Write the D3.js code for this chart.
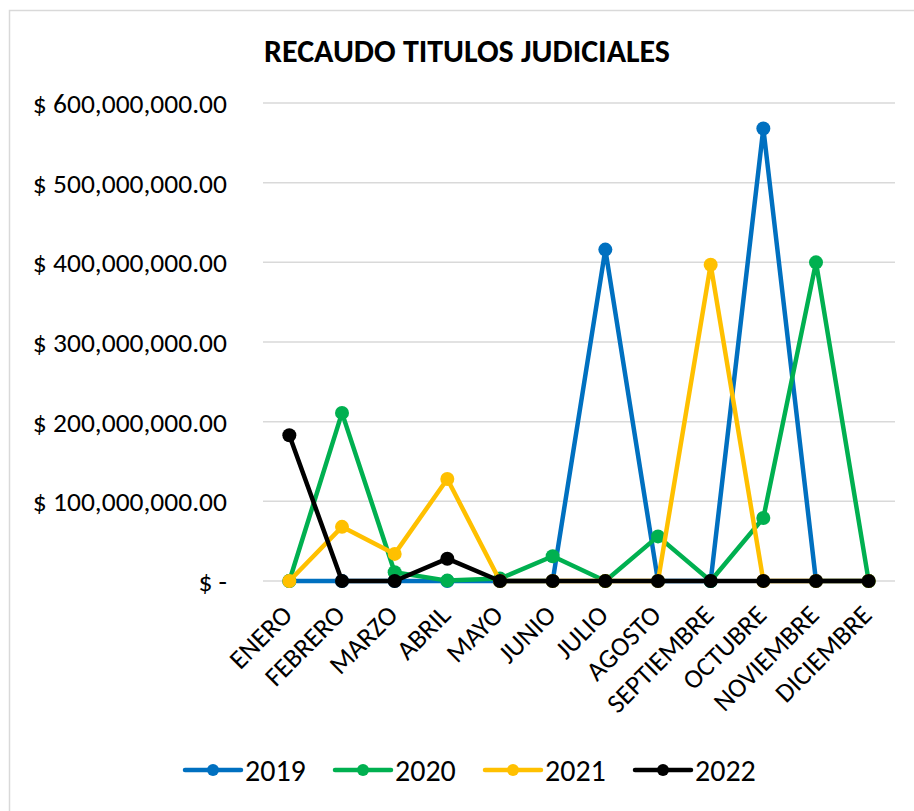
<!DOCTYPE html>
<html>
<head>
<meta charset="utf-8">
<script src="https://cdn.jsdelivr.net/npm/d3@7"></script>
<style>
  body { margin: 0; background: #fff; }
  svg { display: block; font-family: Carlito, Lato, "Open Sans", sans-serif; }
</style>
</head>
<body>
<svg id="container"></svg>
<script>
// months on the x axis
const months = ["ENERO", "FEBRERO", "MARZO", "ABRIL", "MAYO", "JUNIO", "JULIO",
  "AGOSTO", "SEPTIEMBRE", "OCTUBRE", "NOVIEMBRE", "DICIEMBRE"];

// recaudo per year (pesos)
const years = ["2019", "2020", "2021", "2022"];
const values2019 = [0, 0, 0, 0, 0, 0, 416000000, 0, 0, 568000000, 0, 0];
const values2020 = [0, 211000000, 11000000, 500000, 3000000, 31000000, 0, 56000000, 0, 79000000, 400000000, 0];
const values2021 = [0, 68000000, 34000000, 128000000, 0, 0, 0, 0, 397000000, 0, 0, 0];
const values2022 = [183000000, 0, 0, 28000000, 0, 0, 0, 0, 0, 0, 0, 0];
const yTicks = [0, 100000000, 200000000, 300000000, 400000000, 500000000, 600000000];
const colors = ["#0070C0", "#00B050", "#FFC000", "#000000"];

const seriesValues = [values2019, values2020, values2021, values2022];

let width = 914, height = 811;
var margin = {top: 103, right: 19, bottom: 230, left: 263};

let svg = d3.select("#container")
    .attr("width", width)
    .attr("height", height);

// chart frame
svg.append("rect")
    .attr("x", 9.5).attr("y", 10.5)
    .attr("width", width + 20).attr("height", height + 20)
    .attr("fill", "#fff")
    .attr("stroke", "#d9d9d9")
    .attr("stroke-width", 1.5);

// title
svg.append("text")
    .attr("x", 467).attr("y", 62)
    .attr("text-anchor", "middle")
    .style("font-size", "32px")
    .style("font-weight", "bold")
    .text("RECAUDO TITULOS JUDICIALES");

const xScale = d3.scaleBand()
    .domain(months)
    .range([margin.left, width - margin.right]);

const yScale = d3.scaleLinear()
    .domain([0, 600000000])
    .range([height - margin.bottom, margin.top]);

const xPos = m => xScale(m) + xScale.bandwidth() / 2;

// gridlines
svg.append("g")
    .selectAll("line")
    .data(yTicks)
    .enter()
    .append("line")
        .attr("x1", margin.left)
        .attr("x2", width - margin.right)
        .attr("y1", d => yScale(d))
        .attr("y2", d => yScale(d))
        .attr("stroke", "#d9d9d9")
        .attr("stroke-width", 1.5);

// y axis labels
const fmt = d3.format(",.2f");
svg.append("g")
    .attr("transform", "translate(" + (margin.left - 33) + ",0)")
    .call(d3.axisLeft(yScale).tickValues(yTicks).tickSize(0)
        .tickFormat(d => d === 0 ? "$ -" : "$ " + fmt(d)))
    .call(g => g.select(".domain").remove())
    .attr("font-family", null)
    .selectAll("text")
        .attr("fill", "#000")
        .style("font-size", "27.5px")
        .attr("dy", "0.35em");

// x axis labels
svg.append("g")
    .attr("transform", "translate(0," + (height - margin.bottom) + ")")
    .call(d3.axisBottom(xScale).tickSize(0))
    .call(g => g.select(".domain").remove())
    .attr("font-family", null)
    .selectAll("text")
        .attr("fill", "#000")
        .style("font-size", "27px")
        .attr("text-anchor", "end")
        .attr("dy", "0.35em")
        .attr("transform", "translate(-2,29) rotate(-45)")
        .attr("y", 0).attr("x", 0);

// lines
const line = d3.line()
    .x((d, i) => xPos(months[i]))
    .y(d => yScale(d));

seriesValues.forEach((vals, s) => {
    let g = svg.append("g");
    g.append("path")
        .datum(vals)
        .attr("fill", "none")
        .attr("stroke", colors[s])
        .attr("stroke-width", 4.5)
        .attr("stroke-linejoin", "round")
        .attr("d", line);
    g.selectAll("circle")
        .data(vals)
        .enter()
        .append("circle")
            .attr("cx", (d, i) => xPos(months[i]))
            .attr("cy", d => yScale(d))
            .attr("r", 7)
            .attr("fill", colors[s]);
});

// legend
const legendX = [185, 335, 485, 635];
let legend = svg.append("g")
    .selectAll("g")
    .data(years)
    .enter()
    .append("g")
        .attr("transform", (d, i) => "translate(" + legendX[i] + ",770)");
legend.append("line")
    .attr("x1", 0).attr("x2", 56)
    .attr("stroke", (d, i) => colors[i])
    .attr("stroke-width", 4.5)
    .attr("stroke-linecap", "round");
legend.append("circle")
    .attr("cx", 28).attr("r", 6)
    .attr("fill", (d, i) => colors[i]);
legend.append("text")
    .attr("x", 60)
    .attr("dy", "0.35em")
    .style("font-size", "30px")
    .text(d => d);
</script>
</body>
</html>
